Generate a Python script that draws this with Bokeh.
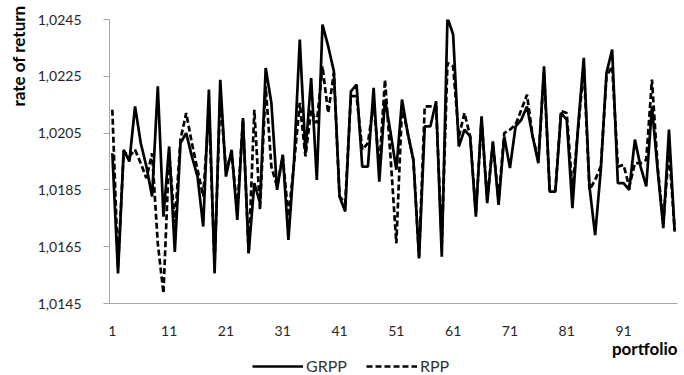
from bokeh.plotting import figure
from bokeh.layouts import column
from bokeh.models import (Range1d, FixedTicker, CustomJSTickFormatter, Title, Label,
                          Legend, LegendItem, ColumnDataSource)
from bokeh.embed import file_html
from bokeh.resources import INLINE

portfolio = list(range(1, 101))

grpp = [1.01979, 1.01556, 1.01991, 1.01950, 1.02144, 1.02015, 1.01932, 1.01827, 1.02215, 1.01756,
        1.02003, 1.01632, 1.02015, 1.02050, 1.01968, 1.01897, 1.01721, 1.02203, 1.01556, 1.02238,
        1.01897, 1.01991, 1.01744, 1.02103, 1.01627, 1.01874, 1.01803, 1.02279, 1.02156, 1.01850,
        1.01974, 1.01674, 1.01956, 1.02379, 1.01979, 1.02244, 1.01885, 1.02432, 1.02356, 1.02268,
        1.01827, 1.01774, 1.02197, 1.02221, 1.01932, 1.01932, 1.02209, 1.01879, 1.02168, 1.02050,
        1.01921, 1.02168, 1.02050, 1.01956, 1.01609, 1.02074, 1.02074, 1.02162, 1.01615, 1.02456,
        1.02397, 1.02003, 1.02062, 1.02038, 1.01756, 1.02109, 1.01803, 1.02021, 1.01797, 1.02038,
        1.01927, 1.02074, 1.02097, 1.02144, 1.02038, 1.01944, 1.02285, 1.01844, 1.01844, 1.02121,
        1.02097, 1.01786, 1.02074, 1.02315, 1.01862, 1.01691, 1.01921, 1.02262, 1.02344, 1.01874,
        1.01874, 1.01850, 1.02027, 1.01932, 1.01862, 1.02144, 1.01921, 1.01715, 1.02062, 1.01703]

rpp = [1.02132, 1.01580, 1.01985, 1.01968, 1.01991, 1.01944, 1.01891, 1.01979, 1.01662, 1.01486,
       1.01979, 1.01733, 1.02027, 1.02121, 1.02015, 1.01921, 1.01827, 1.02132, 1.01591, 1.02180,
       1.01921, 1.01979, 1.01780, 1.02097, 1.01627, 1.02132, 1.01780, 1.02215, 1.01932, 1.01862,
       1.01968, 1.01756, 1.01944, 1.02156, 1.01968, 1.02132, 1.02085, 1.02285, 1.02121, 1.02262,
       1.01827, 1.01803, 1.02180, 1.02180, 1.01991, 1.02015, 1.02156, 1.01932, 1.02238, 1.01960,
       1.01662, 1.02144, 1.02050, 1.01956, 1.01615, 1.02144, 1.02144, 1.02144, 1.01662, 1.02297,
       1.02285, 1.02038, 1.02121, 1.02038, 1.01768, 1.02097, 1.01815, 1.02015, 1.01815, 1.02050,
       1.02062, 1.02080, 1.02132, 1.02185, 1.02038, 1.01956, 1.02262, 1.01850, 1.01850, 1.02127,
       1.02121, 1.01850, 1.02062, 1.02285, 1.01850, 1.01885, 1.01932, 1.02250, 1.02285, 1.01932,
       1.01938, 1.01862, 1.01944, 1.01944, 1.01956, 1.02238, 1.01932, 1.01733, 1.01991, 1.01709]

series_names = ["GRPP", "RPP"]
y_ticks = [1.0145, 1.0165, 1.0185, 1.0205, 1.0225, 1.0245]
x_ticks = [1, 11, 21, 31, 41, 51, 61, 71, 81, 91]

FONT = "Lato"
SOLID = dict(line_color="black", line_width=2.7)
DASHED = dict(line_color="black", line_width=2.7, line_dash="6 3")

x_rng = Range1d(0.5, 100.5)

p = figure(width=684, height=339, output_backend="svg", toolbar_location=None,
           x_range=x_rng, y_range=Range1d(1.0145, 1.0245),
           min_border_left=108, min_border_right=7, min_border_top=19, min_border_bottom=36)
p.outline_line_color = None
p.grid.visible = False
p.background_fill_color = "white"
p.border_fill_color = "white"

src = ColumnDataSource(dict(x=portfolio, g=grpp, r=rpp))
p.line("x", "g", source=src, **SOLID)
p.line("x", "r", source=src, **DASHED)

ya = p.yaxis[0]
ya.ticker = FixedTicker(ticks=y_ticks)
ya.formatter = CustomJSTickFormatter(code="return tick.toFixed(4).replace('.', ',');")
ya.axis_line_color = "#a6a6a6"
ya.major_tick_line_color = "#a6a6a6"
ya.major_tick_out = 6
ya.major_tick_in = 0
ya.minor_tick_line_color = None
ya.major_label_text_font = FONT
ya.major_label_text_font_size = "14px"
ya.major_label_text_color = "#262626"
ya.major_label_standoff = 22

xa = p.xaxis[0]
xa.ticker = FixedTicker(ticks=x_ticks)
xa.axis_line_color = "#a6a6a6"
xa.major_tick_line_color = None
xa.minor_tick_line_color = None
xa.major_label_text_font = FONT
xa.major_label_text_font_size = "14px"
xa.major_label_text_color = "#262626"
xa.major_label_standoff = 16

ytitle = Title(text="rate of return", align="right", offset=-14, standoff=11,
               text_font=FONT, text_font_style="bold", text_font_size="17px",
               text_color="black")
p.add_layout(ytitle, "left")

# strip underneath the chart: x-axis title and legend
lg = figure(width=684, height=36, output_backend="svg", toolbar_location=None,
            x_axis_location=None, y_axis_location=None,
            x_range=x_rng, y_range=Range1d(0, 36),
            min_border_left=108, min_border_right=7,
            min_border_top=0, min_border_bottom=0)
lg.outline_line_color = None
lg.grid.visible = False
lg.background_fill_color = "white"
lg.border_fill_color = "white"

xtitle = Label(x=100.5, y=27, text="portfolio", text_font=FONT, text_font_style="bold",
               text_font_size="17px", text_color="black", text_align="right",
               text_baseline="middle")
lg.add_layout(xtitle)

nan = float("nan")
r1 = lg.line([nan], [nan], **SOLID)
r2 = lg.line([nan], [nan], **DASHED)
legend = Legend(items=[LegendItem(label=series_names[0], renderers=[r1]),
                       LegendItem(label=series_names[1], renderers=[r2])],
                orientation="horizontal", location=(143, 0),
                glyph_width=51, glyph_height=12, label_text_font=FONT,
                label_text_font_size="16px", label_text_color="#333333",
                border_line_color=None, background_fill_alpha=0,
                padding=0, spacing=19, margin=0, label_standoff=3)
lg.add_layout(legend, "center")

layout = column(p, lg, spacing=0)
open("out.html", "w").write(file_html(layout, INLINE))
